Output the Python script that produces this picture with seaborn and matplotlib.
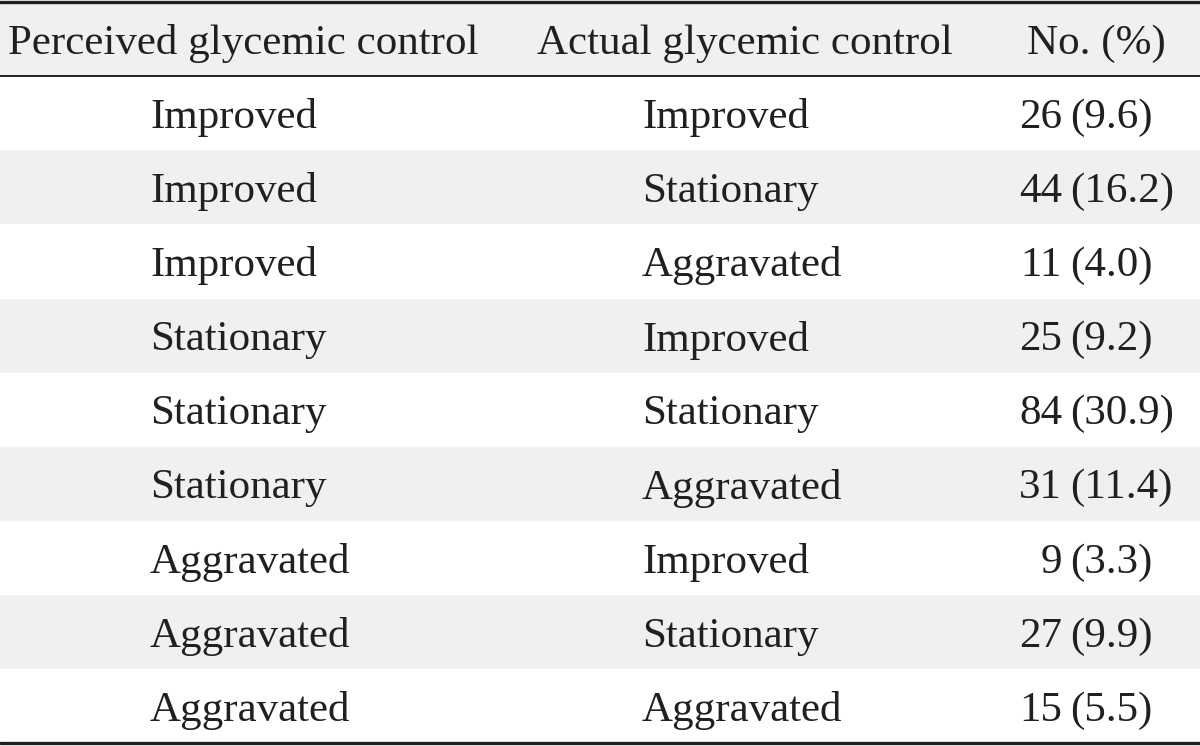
import seaborn as sns
import matplotlib.pyplot as plt

# table data
headers = ['Perceived glycemic control', 'Actual glycemic control', 'No. (%)']
perceived = ['Improved', 'Improved', 'Improved',
             'Stationary', 'Stationary', 'Stationary',
             'Aggravated', 'Aggravated', 'Aggravated']
actual = ['Improved', 'Stationary', 'Aggravated',
          'Improved', 'Stationary', 'Aggravated',
          'Improved', 'Stationary', 'Aggravated']
counts = [26, 44, 11, 25, 84, 31, 9, 27, 15]
percents = [9.6, 16.2, 4.0, 9.2, 30.9, 11.4, 3.3, 9.9, 5.5]

sns.set_theme(style='white')
plt.rcParams['font.family'] = ['Liberation Serif', 'DejaVu Serif']

ink = '#231f20'
shade = '#eff0f0'
fs = 31
dy = 0.06  # nudge text a bit below the row centre

fig, ax = plt.subplots(figsize=(12, 7.46), dpi=100)
fig.subplots_adjust(left=0, right=1, top=1, bottom=0)
ax.set_xlim(0, 1200)
ax.set_ylim(9.04, -1.03)
ax.axis('off')

# header band
ax.axhspan(-1, 0, color=shade, lw=0)
ax.text(8, -0.5 + dy, headers[0], fontsize=fs, color=ink, va='center', ha='left')
ax.text(537, -0.5 + dy, headers[1], fontsize=fs, color=ink, va='center', ha='left')
ax.text(1027, -0.5 + dy, headers[2], fontsize=fs, color=ink, va='center', ha='left')

for i in range(len(perceived)):
    if i % 2 == 1:
        ax.axhspan(i, i + 1, color=shade, lw=0)
    y = i + 0.5 + dy
    ax.text(150, y, perceived[i], fontsize=fs, color=ink, va='center', ha='left')
    ax.text(642, y, actual[i], fontsize=fs, color=ink, va='center', ha='left')
    ax.text(1062, y, str(counts[i]), fontsize=fs, color=ink, va='center', ha='right')
    ax.text(1070, y, '(%.1f)' % percents[i], fontsize=fs, color=ink, va='center', ha='left')

# rules
ax.axhline(-1, color=ink, lw=2.4)
ax.axhline(0, color=ink, lw=1.4)
ax.axhline(len(perceived), color=ink, lw=2.4)

plt.savefig('out.png', dpi=100)
